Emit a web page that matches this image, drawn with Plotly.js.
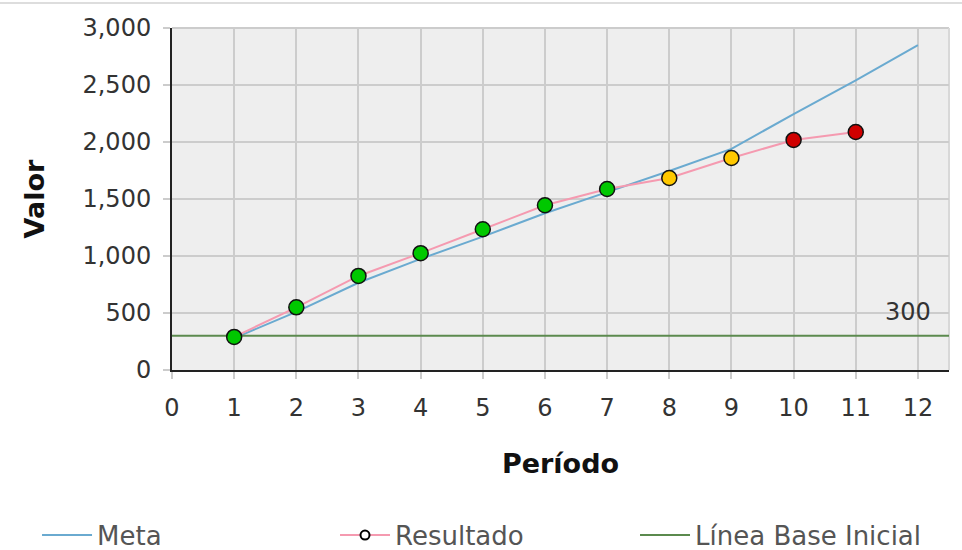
<!DOCTYPE html>
<html>
<head>
<meta charset="utf-8">
<script src="https://cdn.plot.ly/plotly-3.0.1.min.js"></script>
<style>
  html, body { margin: 0; padding: 0; background: #ffffff; }
  #chart { width: 962px; height: 550px; }
</style>
</head>
<body>
<div id="chart"></div>
<script>
// ---- Data ----
const periodos = [1, 2, 3, 4, 5, 6, 7, 8, 9, 10, 11, 12];
const meta = [280, 510, 765, 975, 1170, 1375, 1560, 1745, 1940, 2245, 2540, 2850];
const periodosResultado = [1, 2, 3, 4, 5, 6, 7, 8, 9, 10, 11];
const resultado = [290, 550, 825, 1025, 1235, 1445, 1588, 1684, 1860, 2018, 2088];
const estadoResultado = ['verde','verde','verde','verde','verde','verde','verde','amarillo','amarillo','rojo','rojo'];
const lineaBase = 300;
const lineaBaseX = [0, 12.5];
const xTicks = [0, 1, 2, 3, 4, 5, 6, 7, 8, 9, 10, 11, 12];
const yTicks = [0, 500, 1000, 1500, 2000, 2500, 3000];

// ---- Styles ----
const colorEstado = { verde: '#00c800', amarillo: '#ffc800', rojo: '#d00000' };
const FONT = 'DejaVu Sans, Verdana, sans-serif';

const traces = [
  {
    x: periodos, y: meta, name: 'Meta', type: 'scatter', mode: 'lines',
    line: { color: '#6aaad0', width: 2 }, hoverinfo: 'skip', legend: 'legend'
  },
  {
    x: periodosResultado, y: resultado, name: 'Resultado', type: 'scatter', mode: 'lines+markers',
    line: { color: '#f59ab0', width: 2 },
    marker: { color: '#ffffff', size: 9, line: { color: '#000000', width: 2 } },
    hoverinfo: 'skip', legend: 'legend2'
  },
  {
    x: lineaBaseX, y: lineaBaseX.map(() => lineaBase), name: 'Línea Base Inicial', type: 'scatter', mode: 'lines',
    line: { color: '#5b8a4e', width: 2 }, hoverinfo: 'skip', legend: 'legend3'
  },
  {
    x: periodosResultado, y: resultado, name: 'Resultado', type: 'scatter', mode: 'markers',
    showlegend: false,
    marker: { color: estadoResultado.map(e => colorEstado[e]), size: 15, line: { color: '#111111', width: 1.5 } },
    hoverinfo: 'skip'
  }
];

const legendBase = {
  orientation: 'h', xanchor: 'left', yref: 'container', y: 0.027, yanchor: 'middle',
  font: { family: FONT, size: 26, color: '#555555' },
  itemwidth: 50, bgcolor: 'rgba(0,0,0,0)'
};

const layout = {
  width: 962, height: 550,
  margin: { l: 172, r: 13, t: 28, b: 180 },
  paper_bgcolor: '#ffffff',
  plot_bgcolor: '#eeeeee',
  font: { family: FONT, size: 24, color: '#333333' },
  showlegend: true,
  legend: Object.assign({}, legendBase, { x: -0.1737 }),
  legend2: Object.assign({}, legendBase, { x: 0.2098 }),
  legend3: Object.assign({}, legendBase, { x: 0.5959 }),
  xaxis: {
    range: [0, 12.5], tickvals: xTicks, ticktext: xTicks.map(String),
    showgrid: true, gridcolor: '#cccccc', gridwidth: 2,
    zeroline: false, showline: true, linecolor: '#222222', linewidth: 2,
    ticks: 'outside', ticklen: 7, tickcolor: '#cccccc', tickwidth: 2,
    ticklabelstandoff: 8,
    tickfont: { family: FONT, size: 24, color: '#333333' },
    title: { text: '<b>Período</b>', font: { family: FONT, size: 27, color: '#111111' }, standoff: 33 },
    fixedrange: true
  },
  yaxis: {
    range: [0, 3000], tickvals: yTicks, tickformat: ',',
    showgrid: true, gridcolor: '#cccccc', gridwidth: 2,
    zeroline: false, showline: true, linecolor: '#222222', linewidth: 2,
    ticks: 'outside', ticklen: 7, tickcolor: '#cccccc', tickwidth: 2,
    ticklabelstandoff: 7,
    tickfont: { family: FONT, size: 24, color: '#333333' },
    title: { text: '<b>Valor</b>', font: { family: FONT, size: 27, color: '#111111' }, standoff: 30 },
    fixedrange: true
  },
  shapes: [
    { type: 'line', xref: 'paper', yref: 'paper', x0: 0, x1: 1, y0: 1, y1: 1, line: { color: '#cccccc', width: 2 }, layer: 'below' },
    { type: 'line', xref: 'paper', yref: 'paper', x0: 1, x1: 1, y0: 0, y1: 1, line: { color: '#d8d8d8', width: 2 }, layer: 'below' },
    { type: 'line', xref: 'paper', yref: 'paper', x0: -0.23, x1: 1.02, y0: 1.073, y1: 1.073, line: { color: '#dddddd', width: 2 } }
  ],
  annotations: [
    { x: 12.24, y: lineaBase, xref: 'x', yref: 'y', text: String(lineaBase), showarrow: false,
      xanchor: 'right', yanchor: 'bottom', yshift: 8, font: { family: FONT, size: 24, color: '#333333' } }
  ]
};

Plotly.newPlot('chart', traces, layout, { displayModeBar: false, staticPlot: true });
</script>
</body>
</html>
